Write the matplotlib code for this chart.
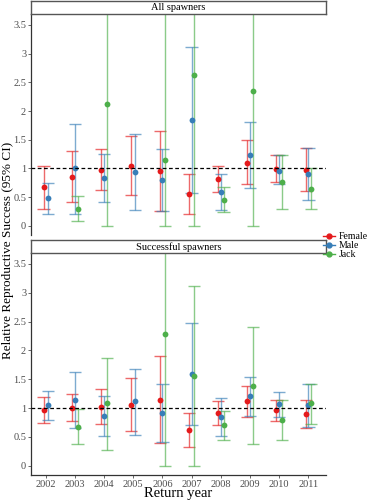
import numpy as np
import matplotlib.pyplot as plt
from matplotlib.lines import Line2D

plt.rcParams['font.family'] = ['Liberation Serif', 'DejaVu Serif']

years = ['2002', '2003', '2004', '2005', '2006', '2007', '2008', '2009', '2010', '2011']
nan = np.nan
TOP = 10.0  # upper limit off the chart

# All spawners
all_f_est = [0.67, 0.85, 0.98, 1.05, 0.96, 0.55, 0.82, 1.10, 0.99, 0.98]
all_f_lo  = [0.29, 0.41, 0.63, 0.53, 0.26, 0.20, 0.59, 0.72, 0.76, 0.61]
all_f_hi  = [1.05, 1.30, 1.33, 1.57, 1.65, 0.90, 1.05, 1.49, 1.23, 1.35]
all_m_est = [0.48, 1.00, 0.83, 0.94, 0.80, 1.84, 0.59, 1.23, 0.95, 0.90]
all_m_lo  = [0.20, 0.20, 0.41, 0.27, 0.26, 0.57, 0.28, 0.66, 0.72, 0.45]
all_m_hi  = [0.75, 1.78, 1.25, 1.60, 1.34, 3.11, 0.90, 1.80, 1.23, 1.35]
all_j_est = [nan, 0.30, 2.13, nan, 1.14, 2.62, 0.45, 2.35, 0.76, 0.65]
all_j_lo  = [nan, 0.08, 0.00, nan, 0.00, 0.00, 0.24, 0.00, 0.29, 0.29]
all_j_hi  = [nan, 0.52, TOP, nan, TOP, TOP, 0.67, TOP, 1.23, 1.00]

# Successful spawners
suc_f_est = [0.97, 1.00, 1.02, 1.06, 1.14, 0.62, 0.91, 1.12, 0.97, 0.90]
suc_f_lo  = [0.74, 0.78, 0.72, 0.61, 0.39, 0.32, 0.71, 0.84, 0.77, 0.66]
suc_f_hi  = [1.20, 1.24, 1.34, 1.52, 1.91, 0.92, 1.12, 1.39, 1.14, 1.14]
suc_m_est = [1.05, 1.14, 0.87, 1.12, 0.92, 1.59, 0.85, 1.21, 1.07, 1.05]
suc_m_lo  = [0.79, 0.66, 0.52, 0.54, 0.42, 0.71, 0.51, 0.87, 0.85, 0.67]
suc_m_hi  = [1.30, 1.63, 1.21, 1.68, 1.42, 2.47, 1.17, 1.54, 1.28, 1.42]
suc_j_est = [nan, 0.68, 1.08, nan, 2.28, 1.56, 0.70, 1.39, 0.80, 1.08]
suc_j_lo  = [nan, 0.37, 0.28, nan, 0.00, 0.00, 0.44, 0.38, 0.45, 0.73]
suc_j_hi  = [nan, 0.98, 1.87, nan, TOP, 3.12, 0.95, 2.40, 1.14, 1.41]

sexes = ['Female', 'Male', 'Jack']
colors = ['#E41A1C', '#377EB8', '#4DAF4A']

panels = [
    ('All spawners', [(all_f_est, all_f_lo, all_f_hi),
                      (all_m_est, all_m_lo, all_m_hi),
                      (all_j_est, all_j_lo, all_j_hi)]),
    ('Successful spawners', [(suc_f_est, suc_f_lo, suc_f_hi),
                             (suc_m_est, suc_m_lo, suc_m_hi),
                             (suc_j_est, suc_j_lo, suc_j_hi)]),
]

fig = plt.figure(figsize=(3.83, 5.0), dpi=100)
L, W = 0.081, 0.770
ax_boxes = [(0.530, 0.442), (0.050, 0.444)]
strip_boxes = [(0.972, 0.027), (0.494, 0.027)]
dodge = 0.28
cap = 0.21
GREY = '#4D4D4D'

for p, (title, series) in enumerate(panels):
    ax = fig.add_axes([L, ax_boxes[p][0], W, ax_boxes[p][1]])
    x = np.arange(len(years))
    for i in range(len(years)):
        present = [k for k in range(3) if not np.isnan(series[k][0][i])]
        n = len(present)
        for j, k in enumerate(present):
            est, lo, hi = series[k]
            xi = i + (j - (n - 1) / 2) * dodge / n
            ax.vlines(xi, lo[i], hi[i], color=colors[k], lw=1.0, alpha=0.65)
            ax.hlines([lo[i], hi[i]], xi - cap, xi + cap, color=colors[k], lw=1.0, alpha=0.65)
            ax.plot(xi, est[i], 'o', color=colors[k], ms=4.2, mec='none', zorder=5)
    ax.axhline(1, color='black', lw=0.9, ls=(0, (3, 2)), zorder=6)
    ax.set_xlim(-0.5, 9.6)
    ax.set_ylim(-0.16, 3.69)
    ax.set_yticks([0, 0.5, 1, 1.5, 2, 2.5, 3, 3.5])
    ax.set_yticklabels(['0', '0.5', '1', '1.5', '2', '2.5', '3', '3.5'])
    ax.tick_params(axis='y', labelsize=7.5, colors=GREY, length=2, width=0.6, pad=1.5)
    for s in ['top', 'right']:
        ax.spines[s].set_visible(False)
    ax.spines['left'].set_color('#333333')
    ax.spines['left'].set_linewidth(0.9)
    if p == 0:
        ax.spines['bottom'].set_visible(False)
        ax.set_xticks([])
    else:
        ax.spines['bottom'].set_color('#333333')
        ax.spines['bottom'].set_linewidth(0.9)
        ax.set_xticks(x)
        ax.set_xticklabels(years)
        ax.tick_params(axis='x', labelsize=7.5, colors=GREY, length=2, width=0.6, pad=1.5)
        ax.set_xlabel('Return year', fontsize=10.5, labelpad=-1)

    sa = fig.add_axes([L, strip_boxes[p][0], W, strip_boxes[p][1]])
    sa.set_xticks([])
    sa.set_yticks([])
    for s in sa.spines.values():
        s.set_color('#555555')
        s.set_linewidth(1.0)
    sa.text(0.5, 0.45, title, ha='center', va='center', fontsize=7.5, transform=sa.transAxes)

fig.text(0.022, 0.5, 'Relative Reproductive Success (95% CI)', rotation=90,
         ha='center', va='center', fontsize=9.5)

handles = [Line2D([], [], color=c, marker='o', ms=3.5, lw=1.0) for c in colors]
fig.legend(handles, sexes, loc='center left', bbox_to_anchor=(0.825, 0.509),
           frameon=False, fontsize=7, handlelength=1.3, handletextpad=0.3,
           labelspacing=0.0, borderpad=0.2)

fig.savefig('out.png', dpi=100)
